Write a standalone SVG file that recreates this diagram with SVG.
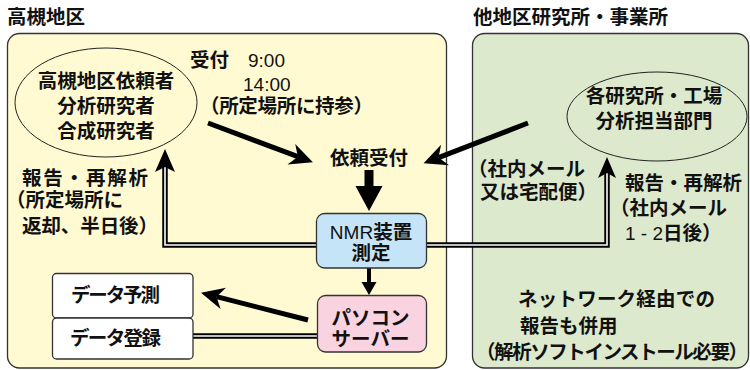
<svg xmlns="http://www.w3.org/2000/svg" width="750" height="370" viewBox="0 0 750 370">
<style>
.t{font-family:"Noto Sans CJK JP","Noto Sans",sans-serif;font-weight:bold;font-size:19.5px;fill:#111}
.l{font-family:"Liberation Sans",Arial,sans-serif;font-weight:normal;font-size:19px;fill:#111}
.panel{stroke:#333;stroke-width:1.3}
.ell{fill:none;stroke:#222;stroke-width:1}
.box{stroke:#333;stroke-width:1.3}
.thick{stroke:#000;stroke-width:5;fill:none}
.dbo{stroke:#000;stroke-width:5.5;fill:none}
.dbi{stroke:#fff;stroke-width:1.6;fill:none}
.head{fill:#000}
</style>
<defs>
<marker id="ah" markerUnits="userSpaceOnUse" orient="auto" overflow="visible" markerWidth="1" markerHeight="1" refX="0" refY="0">
<path d="M16,0 L-7,-11 L0,0 L-7,11 Z" fill="#000"/>
</marker>
</defs>
<rect width="750" height="370" fill="#fff"/>

<g id="takatsuki-area">
<rect class="panel" x="7.5" y="33.5" width="439" height="334.5" rx="12" fill="#fffad2"/>
<text class="t" x="7" y="24" font-size="20">高槻地区</text>
</g>
<g id="other-area">
<rect class="panel" x="472.5" y="33.5" width="276" height="334.5" rx="12" fill="#dde9cd"/>
<text class="t" x="473" y="24" font-size="20">他地区研究所・事業所</text>
</g>

<g id="connectors">
<line class="thick" x1="208" y1="123" x2="297.9" y2="156.7" marker-end="url(#ah)"/>
<line class="thick" x1="528" y1="123" x2="438.5" y2="157.6" marker-end="url(#ah)"/>
<line class="thick" x1="308" y1="320" x2="216.5" y2="296.7" marker-end="url(#ah)"/>
<path class="head" d="M364.5,170 H373.5 V186 H382.5 L369,211 L355.5,186 H364.5 Z"/>
<path class="head" d="M367,268 H371 V282 H376.5 L369,295 L361.5,282 H367 Z"/>
<path class="dbo" d="M316,245 H165 V167"/>
<path class="dbi" d="M316,245 H165 V167"/>
<path class="head" d="M165,149 L175,172 L165,167 L155,172 Z"/>
<path class="dbo" d="M427,245 H607 V173"/>
<path class="dbi" d="M427,245 H607 V173"/>
<path class="head" d="M607,157 L616,178 L607,173 L598,178 Z"/>
<path class="dbo" d="M317,336 H193"/>
<path class="dbi" d="M317,336 H193"/>
</g>

<g id="takatsuki-requesters">
<ellipse class="ell" cx="106" cy="102.5" rx="91" ry="54.5"/>
<text class="t" x="106" y="88" text-anchor="middle">高槻地区依頼者</text>
<text class="t" x="106" y="113" text-anchor="middle">分析研究者</text>
<text class="t" x="106" y="138" text-anchor="middle">合成研究者</text>
</g>

<g id="reception-hours">
<text class="t" x="190" y="67">受付</text>
<text class="l" x="248" y="67">9:00</text>
<text class="l" x="243" y="91">14:00</text>
<text class="t" x="200" y="113" textLength="173">（所定場所に持参）</text>
</g>

<g id="request-reception">
<text class="t" x="369" y="165" text-anchor="middle">依頼受付</text>
</g>

<g id="nmr">
<rect class="box" x="316.5" y="213.5" width="110" height="54.5" rx="8" fill="#c6e4f8"/>
<text class="t" x="371" y="239" text-anchor="middle"><tspan class="l" font-size="19.5">NMR</tspan>装置</text>
<text class="t" x="371" y="260" text-anchor="middle">測定</text>
</g>

<g id="pc-server">
<rect class="box" x="317.5" y="295.5" width="109" height="56.5" rx="8" fill="#f9d3df"/>
<text class="t" x="370.5" y="325" text-anchor="middle">パソコン</text>
<text class="t" x="370.5" y="346" text-anchor="middle">サーバー</text>
</g>

<g id="data-prediction">
<rect class="box" x="52.5" y="273.5" width="140.5" height="44.5" rx="4" fill="#fff"/>
<text class="t" x="71" y="302" textLength="89">データ予測</text>
</g>
<g id="data-registration">
<rect class="box" x="52.5" y="318" width="140.5" height="41" rx="4" fill="#fff"/>
<text class="t" x="70" y="345" textLength="91">データ登録</text>
</g>

<g id="report-left">
<text class="t" x="22" y="185" textLength="126">報告・再解析</text>
<text class="t" x="6" y="207">（所定場所に</text>
<text class="t" x="22" y="233" textLength="136">返却、半日後）</text>
</g>

<g id="other-labs">
<ellipse class="ell" cx="657" cy="116.5" rx="90" ry="44.5"/>
<text class="t" x="654" y="103" text-anchor="middle">各研究所・工場</text>
<text class="t" x="654" y="128" text-anchor="middle">分析担当部門</text>
</g>

<g id="mail-note">
<text class="t" x="468" y="176">（社内メール</text>
<text class="t" x="480" y="199">又は宅配便）</text>
</g>

<g id="report-right">
<text class="t" x="625" y="190">報告・再解析</text>
<text class="t" x="610" y="215">（社内メール</text>
<text class="t" x="625" y="240"><tspan class="l" font-size="19.5">1 - 2</tspan>日後）</text>
</g>

<g id="network-note">
<text class="t" x="518" y="306" textLength="197">ネットワーク経由での</text>
<text class="t" x="520" y="333">報告も併用</text>
<text class="t" x="476" y="359" textLength="272">（解析ソフトインストール必要）</text>
</g>
</svg>
